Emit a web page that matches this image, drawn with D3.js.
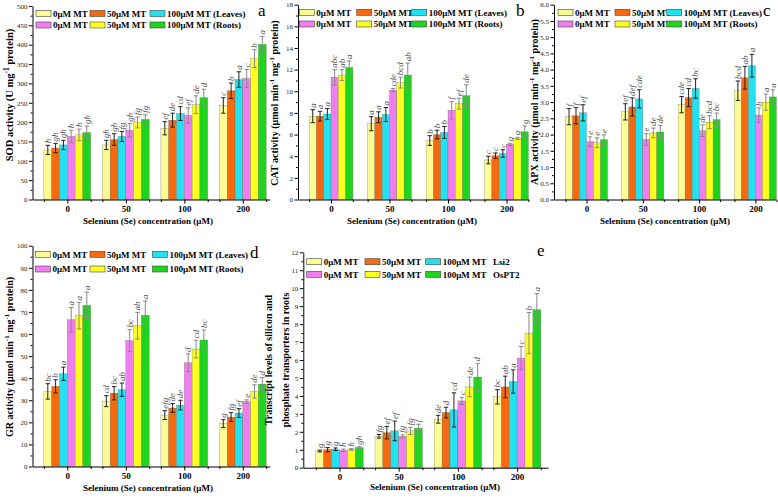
<!DOCTYPE html>
<html><head><meta charset="utf-8">
<script src="https://cdn.jsdelivr.net/npm/d3@7"></script>
<style>
body{margin:0;background:#fff}
svg{display:block}
text{font-family:"Liberation Serif","Times New Roman",serif}
</style>
</head><body>
<svg id="chart" width="778" height="498"></svg>
<script>
// ---------------- DATA ----------------
const categories = ["0", "50", "100", "200"];
const legendRow1 = ["0μM MT", "50μM MT", "100μM MT (Leaves)"];
const legendRow2 = ["0μM MT", "50μM MT", "100μM MT (Roots)"];
const legendRow1E = ["0μM MT", "50μM MT", "100μM MT   Lsi2"];
const legendRow2E = ["0μM MT", "50μM MT", "100μM MT   OsPT2"];

// each row = one Se group; columns = leaves 0/50/100 MT, roots 0/50/100 MT
const sodMean = [[128,133,141,163,167,173],[141,155,163,179,199,207],[184,205,222,217,245,263],[243,281,310,313,364,401]];
const sodErr  = [[12,12,12,16,15,17],[12,15,13,17,14,12],[17,18,18,20,23,22],[20,20,20,23,23,20]];
const sodLetters = [["h","gh","gh","h","h","gh"],["gh","gh","fg","gh","fg","fg"],["ef","de","cd","ef","de","d"],["c","b","a","c","b","a"]];
const sodTicks = [0,50,100,150,200,250,300,350,400,450,500];

const catMean = [[7.7,7.7,7.9,11.3,11.5,12.2],[7.0,7.6,7.85,10.1,10.8,11.5],[5.45,6.0,6.2,8.25,8.85,9.6],[3.65,4.05,4.25,5.1,5.65,6.25]];
const catErr  = [[0.6,0.45,0.5,0.7,0.5,0.6],[0.65,0.5,0.65,0.15,0.5,1.1],[0.45,0.4,0.55,0.8,0.5,1.0],[0.35,0.25,0.35,0.1,0.1,0.55]];
const catLetters = [["a","a","a","abc","ab","a"],["a","a","a","cde","bcd","ab"],["b","b","b","f","ef","de"],["c","c","c","g","g","g"]];
const catTicks = [0,2,4,6,8,10,12,14,16,18];

const apxMean = [[2.55,2.58,2.67,1.78,1.75,1.84],[2.7,2.85,3.1,1.85,2.05,2.08],[2.92,3.14,3.42,2.12,2.38,2.46],[3.35,3.75,4.12,2.6,3.0,3.16]];
const apxErr  = [[0.25,0.25,0.25,0.15,0.15,0.15],[0.25,0.28,0.28,0.18,0.15,0.2],[0.25,0.28,0.3,0.18,0.2,0.2],[0.3,0.35,0.35,0.22,0.25,0.22]];
const apxLetters = [["f","f","ef","e","e","e"],["ef","def","cde","e","de","de"],["cde","cd","bc","de","bcd","bc"],["bcd","ab","a","b","a","a"]];
const apxTicks = [0,0.5,1,1.5,2,2.5,3,3.5,4,4.5,5,5.5,6];

const grMean = [[34,36.3,42,66.5,68.3,73],[29.6,33.2,34.8,57,63.8,68.5],[23.3,26.5,27.8,47,53.2,57.3],[19.4,22.4,24.2,29.4,34,37.3]];
const grErr  = [[3.5,3,3,5.5,6,6],[2.5,3,3,5,6,6.5],[2,2,2.2,4,4,4.5],[1.8,2,2,0.8,3,3]];
const grLetters = [["bc","b","a","a","a","a"],["cd","bc","ab","bc","ab","a"],["efg","de","de","d","cd","bc"],["g","fg","ef","e","de","d"]];
const grTicks = [0,10,20,30,40,50,60,70,80,90,100];

const trMean = [[0.93,1.0,1.03,0.97,1.02,1.12],[1.75,1.95,2.05,1.75,2.05,2.2],[2.7,3.07,3.22,3.72,4.5,5.05],[3.95,4.5,4.8,6.1,7.5,8.8]];
const trErr  = [[0.05,0.12,0.07,0.07,0.05,0.05],[0.1,0.35,0.55,0.08,0.2,0.22],[0.22,0.3,0.95,0.2,0.55,0.75],[0.4,0.6,0.65,0.65,1.15,0.9]];
const trLetters = [["g","g","g","h","h","gh"],["fg","ef","ef","fg","fg","f"],["de","d","cd","c","de","d"],["bc","ab","a","c","b","a"]];
const trTicks = [0,1,2,3,4,5,6,7,8,9,10,11,12];

// ---------------- STYLE ----------------
const barColors = ["#fcfc96","#f56a10","#22e2f2","#f17ef1","#ffff1e","#1ed41e"];
const errColors = ["#222","#222","#222","#888","#888","#888"];

const svg = d3.select("#chart");

function drawPanel(p) {
  const g = svg.append("g");
  const y = d3.scaleLinear().domain([0, p.ticks[p.ticks.length-1]]).range([p.bottom, p.top]);
  const end = p.c0 + 3*p.step + p.endPad;
  const x = d3.scaleLinear().domain([-(p.c0-p.left)/p.step, 3 + p.endPad/p.step]).range([p.left, end]);
  const inner = d3.scaleBand().domain(d3.range(6)).range([-3*p.barW, 3*p.barW]).padding(0);

  // bars
  p.mean.forEach((grp, i) => {
    grp.forEach((v, j) => {
      const bx = x(i) + inner(j);
      g.append("rect").attr("x", bx).attr("y", y(v)).attr("width", inner.bandwidth())
        .attr("height", y(0) - y(v)).attr("fill", barColors[j])
        .attr("stroke", "#6a6a50").attr("stroke-width", 0.3);
      const e = p.err[i][j];
      const cx = bx + inner.bandwidth()/2;
      if (e > 0) {
        g.append("line").attr("x1", cx).attr("x2", cx).attr("y1", y(v - e)).attr("y2", y(v + e))
          .attr("stroke", errColors[j]).attr("stroke-width", 1);
        [v - e, v + e].forEach(t => g.append("line").attr("x1", cx - 2.2).attr("x2", cx + 2.2)
          .attr("y1", y(t)).attr("y2", y(t)).attr("stroke", errColors[j]).attr("stroke-width", 1));
      }
      g.append("text").attr("transform", `translate(${cx + 2.8},${y(v + e) - 2}) rotate(-90)`)
        .attr("font-size", 9).attr("font-style", "italic").attr("fill", "#555")
        .text(p.letters[i][j]);
    });
  });

  // axes
  const xa = g.append("g").attr("transform", `translate(0,${p.bottom})`)
    .call(d3.axisBottom(x).tickValues([0,1,2,3]).tickFormat(i => categories[i]).tickSize(4).tickPadding(2).tickSizeOuter(0));
  xa.selectAll("text").attr("font-size", 9).attr("font-weight", "bold").attr("font-family", "Liberation Serif").attr("fill", "#000");
  const edges = [];
  [0,1,2,3].forEach(i => { edges.push(i - 3*p.barW/p.step, i + 3*p.barW/p.step); });
  const xm = g.append("g").attr("transform", `translate(0,${p.bottom})`)
    .call(d3.axisBottom(x).tickValues(edges).tickFormat("").tickSize(2.5).tickSizeOuter(0));
  xm.select(".domain").remove();

  const ya = g.append("g").attr("transform", `translate(${p.left},0)`)
    .call(d3.axisLeft(y).tickValues(p.ticks).tickFormat(p.fmt).tickSize(3.5).tickSizeOuter(0));
  ya.selectAll("text").attr("font-size", 7).attr("font-family", "Liberation Serif").attr("fill", "#222").attr("x", -5);
  const mids = p.ticks.slice(1).map((t, k) => (t + p.ticks[k]) / 2);
  g.append("g").attr("transform", `translate(${p.left},0)`)
    .call(d3.axisLeft(y).tickValues(mids).tickFormat("").tickSize(2).tickSizeOuter(0))
    .select(".domain").remove();
  g.selectAll(".domain, .tick line").attr("stroke", "#000");

  // legend
  const rows = [p.legend1, p.legend2];
  rows.forEach((row, r) => row.forEach((lab, c) => {
    const lx = p.left + p.legX[c], ly = p.legY[r];
    g.append("rect").attr("x", lx).attr("y", ly - 3).attr("width", 15).attr("height", 6)
      .attr("fill", barColors[r*3 + c]).attr("stroke", "#444").attr("stroke-width", 0.6);
    g.append("text").attr("x", lx + 17).attr("y", ly + 3.3).attr("font-size", 9).attr("font-weight", "bold")
      .attr("xml:space", "preserve").style("white-space", "pre").text(lab);
  }));

  // panel letter
  g.append("text").attr("x", p.tagX).attr("y", p.tagY).attr("font-size", 17).text(p.tag);

  // x title
  g.append("text").attr("x", p.xtX).attr("y", p.xtY).attr("text-anchor", "middle")
    .attr("font-size", 9).attr("font-weight", "bold").text("Selenium (Se) concentration (μM)");

  // y title(s)
  p.ytitles.forEach(t => {
    const tx = g.append("text").attr("transform", `translate(${t.x},${t.y}) rotate(-90)`)
      .attr("text-anchor", "middle").attr("font-size", t.size).attr("font-weight", "bold");
    t.parts.forEach(part => {
      if (part.sup) tx.append("tspan").attr("dy", -4).attr("font-size", t.size*0.7).text(part.t);
      else if (part.after) tx.append("tspan").attr("dy", 4).text(part.t);
      else tx.append("tspan").text(part.t);
    });
  });
}

const unitParts = (name) => [
  {t: name + " activity (μmol min"}, {t: "-1", sup: true}, {t: " mg", after: true},
  {t: "-1", sup: true}, {t: " protein)", after: true}
];

drawPanel({mean: sodMean, err: sodErr, letters: sodLetters, ticks: sodTicks, fmt: d3.format("d"),
  left: 32.5, top: 6, bottom: 199.5, c0: 67.3, step: 58.5, barW: 7.8, endPad: 27,
  legend1: legendRow1, legend2: legendRow2, legX: [3.5, 57.5, 117.5], legY: [13.5, 25],
  tag: "a", tagX: 258, tagY: 16, xtX: 148, xtY: 224,
  ytitles: [{x: 13, y: 95, size: 10.5, parts: [{t: "SOD activity (U mg"}, {t: "-1", sup: true}, {t: "  protein)", after: true}]}]});

drawPanel({mean: catMean, err: catErr, letters: catLetters, ticks: catTicks, fmt: d3.format("d"),
  left: 298, top: 4.7, bottom: 199.5, c0: 331, step: 58.5, barW: 7.3, endPad: 22,
  legend1: legendRow1, legend2: legendRow2, legX: [1.3, 58.7, 113.7], legY: [12.3, 24],
  tag: "b", tagX: 516, tagY: 16, xtX: 412, xtY: 224,
  ytitles: [{x: 278, y: 103, size: 10, parts: unitParts("CAT")}]});

drawPanel({mean: apxMean, err: apxErr, letters: apxLetters, ticks: apxTicks, fmt: d3.format(".1f"),
  left: 554, top: 4.7, bottom: 199.5, c0: 586.5, step: 56.3, barW: 7.0, endPad: 20,
  legend1: legendRow1, legend2: legendRow2, legX: [4, 61, 112.7], legY: [12.3, 24],
  tag: "c", tagX: 763, tagY: 16, xtX: 665, xtY: 224,
  ytitles: [{x: 538, y: 102, size: 10, parts: unitParts("APX")}]});

drawPanel({mean: grMean, err: grErr, letters: grLetters, ticks: grTicks, fmt: d3.format("d"),
  left: 32.5, top: 245.7, bottom: 466.5, c0: 67.3, step: 58.5, barW: 7.8, endPad: 27,
  legend1: legendRow1, legend2: legendRow2, legX: [3, 57.5, 120], legY: [254.3, 269],
  tag: "d", tagX: 250, tagY: 258, xtX: 148, xtY: 491,
  ytitles: [{x: 13, y: 357, size: 10, parts: unitParts("GR")}]});

drawPanel({mean: trMean, err: trErr, letters: trLetters, ticks: trTicks, fmt: d3.format("d"),
  left: 303.3, top: 252.3, bottom: 467.7, c0: 339.5, step: 59.2, barW: 7.9, endPad: 31,
  legend1: legendRow1E, legend2: legendRow2E, legX: [3.4, 61.7, 122.4], legY: [261.7, 274.3],
  tag: "e", tagX: 537, tagY: 256, xtX: 435, xtY: 490,
  ytitles: [{x: 272, y: 360, size: 10, parts: [{t: "Transcript levels of silicon and"}]},
            {x: 289, y: 360, size: 10, parts: [{t: "phosphate transporters in roots"}]}]});
</script>
</body></html>
